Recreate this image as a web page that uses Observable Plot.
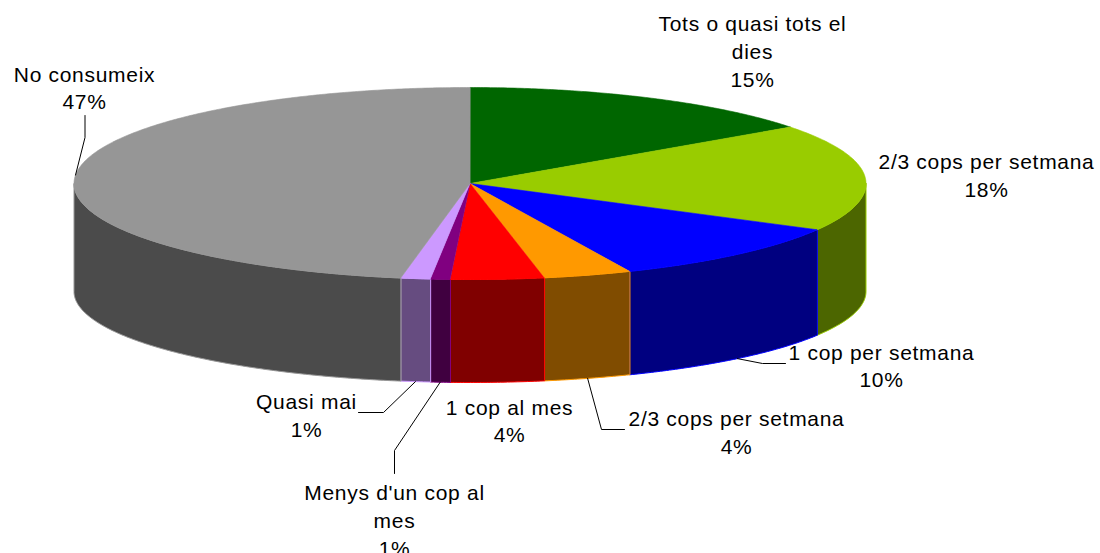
<!DOCTYPE html>
<html>
<head>
<meta charset="utf-8">
<script src="https://cdn.jsdelivr.net/npm/d3@7"></script>
<script src="https://cdn.jsdelivr.net/npm/@observablehq/plot@0.6"></script>
<style>
  html, body { margin: 0; padding: 0; background: #ffffff; }
  #chart svg { display: block; }
</style>
</head>
<body>
<div id="chart"></div>
<script>
// ---- DATA ----
const categories = [
  "Tots o quasi tots el dies",
  "2/3 cops per setmana",
  "1 cop per setmana",
  "2/3 cops per setmana",
  "1 cop al mes",
  "Menys d'un cop al mes",
  "Quasi mai",
  "No consumeix"
];
const values = [15, 18, 10.4, 3.6, 3.8, 0.8, 1.2, 47.2];
// label wrapping as in the original
const labelLines = [
  ["Tots o quasi tots el", "dies"],
  ["2/3 cops per setmana"],
  ["1 cop per setmana"],
  ["2/3 cops per setmana"],
  ["1 cop al mes"],
  ["Menys d'un cop al", "mes"],
  ["Quasi mai"],
  ["No consumeix"]
];

// ---- STYLE ----
const topColors  = ["#006600", "#99CC00", "#0000FF", "#FF9900", "#FF0000", "#800080", "#CC99FF", "#969696"];
const sideColors = ["#003300", "#4C6600", "#000080", "#804C00", "#800000", "#400040", "#664C80", "#4B4B4B"];

// ---- LAYOUT (pixel space of the plot) ----
const W = 1100, H = 553;
const pie3d = {cx: 469.5, cy: 183, rx: 396, ry: 96, cyb: 291, ryb: 91};
// label block centres and leader elbows (leader starts at the slice rim)
const labelLayout = [
  {x: 752, y: 49.5, leader: null},
  {x: 986, y: 173.5, leader: null},
  {x: 881, y: 364.2, rim: "bottom", leader: [[762, 363], [785, 363]]},
  {x: 736, y: 430.5, rim: "bottom", leader: [[601, 429], [624, 429]]},
  {x: 509, y: 419, leader: null},
  {x: 394, y: 518.5, rim: "bottom", leader: [[394, 450], [394, 473]]},
  {x: 306, y: 413.5, rim: "bottom", leader: [[383, 412], [358, 412]]},
  {x: 84, y: 86, rim: "top", leader: [[84.5, 137], [84.5, 115]]}
];
const fontSize = 21;
const lineGap = 27.8;

// ---- GEOMETRY from data ----
const total = d3.sum(values);
const arcs = d3.pie().sort(null).value(d => d).startAngle(0).endAngle(2 * Math.PI)(values);
const {cx, cy, rx, ry, cyb, ryb} = pie3d;
const topPt = t => ({x: cx + rx * Math.sin(t), y: cy - ry * Math.cos(t)});
const botPt = t => ({x: cx + rx * Math.sin(t), y: cyb - ryb * Math.cos(t)});
function sample(a0, a1, f) {
  const n = Math.max(2, Math.ceil(Math.abs(a1 - a0) / (Math.PI / 360)));
  return d3.range(n + 1).map(i => f(a0 + (a1 - a0) * i / n));
}

const sideMarks = [];
const topMarks = [];
arcs.forEach((a, i) => {
  // visible side wall: front half (90deg .. 270deg)
  const s0 = Math.max(a.startAngle, Math.PI / 2);
  const s1 = Math.min(a.endAngle, 3 * Math.PI / 2);
  if (s1 > s0) {
    const pts = [...sample(s0, s1, topPt), ...sample(s1, s0, botPt)];
    sideMarks.push(Plot.line(pts, {
      x: "x", y: "y", curve: "linear-closed",
      fill: sideColors[i], stroke: topColors[i], strokeWidth: 1
    }));
  }
  const wedge = [{x: cx, y: cy}, ...sample(a.startAngle, a.endAngle, topPt)];
  topMarks.push(Plot.line(wedge, {
    x: "x", y: "y", curve: "linear-closed",
    fill: topColors[i], stroke: topColors[i], strokeWidth: 0.6
  }));
});

// leaders
const leaderMarks = [];
arcs.forEach((a, i) => {
  const L = labelLayout[i];
  if (!L.leader) return;
  const mid = (a.startAngle + a.endAngle) / 2;
  const start = L.rim === "top" ? topPt(mid) : botPt(mid);
  const pts = [start, ...L.leader.map(([x, y]) => ({x, y}))];
  leaderMarks.push(Plot.line(pts, {x: "x", y: "y", stroke: "#000000", strokeWidth: 1, curve: "linear"}));
});

// labels
const labelData = categories.map((c, i) => ({
  x: labelLayout[i].x,
  y: labelLayout[i].y,
  text: [...labelLines[i], Math.round(values[i] / total * 100) + "%"].join("\n")
}));

const chart = Plot.plot({
  width: W,
  height: H,
  margin: 0,
  x: {domain: [0, W], range: [0, W], axis: null},
  y: {domain: [0, H], range: [0, H], axis: null},
  style: {background: "#ffffff", fontFamily: "'Liberation Sans', Arial, sans-serif", letterSpacing: "0.7px"},
  marks: [
    ...sideMarks,
    ...topMarks,
    ...leaderMarks,
    Plot.text(labelData, {
      x: "x", y: "y", text: "text",
      fontSize, lineHeight: lineGap / fontSize,
      lineAnchor: "middle", textAnchor: "middle",
      fill: "#000000", fontFamily: "'Liberation Sans', Arial, sans-serif"
    })
  ]
});
document.getElementById("chart").appendChild(chart);
</script>
</body>
</html>
